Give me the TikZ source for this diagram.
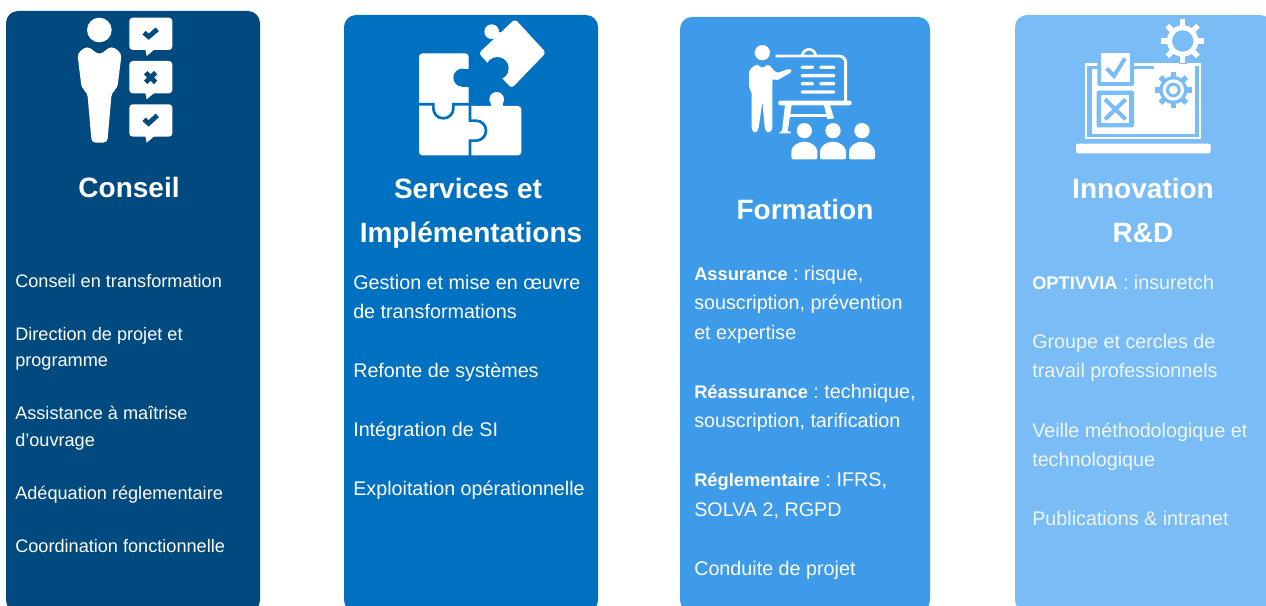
\documentclass[tikz,border=0pt]{standalone}
\usepackage{fontspec}
\setmainfont{Liberation Sans}
\AtBeginDocument{\frenchspacing}
\definecolor{cardA}{HTML}{004A80}
\definecolor{cardB}{HTML}{0070C0}
\definecolor{cardC}{HTML}{3D9BE9}
\definecolor{cardD}{HTML}{7ABCF5}
\tikzset{
  card/.style={rounded corners=9pt},
  head/.style={text=white,font=\fontsize{21}{24}\selectfont\bfseries,anchor=base,inner sep=0pt},
  bodyA/.style={text=white,font=\fontsize{13.6}{15}\selectfont,anchor=base west,inner sep=0pt},
  bodyB/.style={text=white,font=\fontsize{14.8}{16}\selectfont,anchor=base west,inner sep=0pt},
  bodyD/.style={bodyB,text=white!88!cardD},
  icon/.style={x=.25pt,y=-.25pt},
}
\newcommand{\bb}[1]{{\fontsize{13.7}{16}\selectfont\bfseries #1}}
\newcommand{\gearshape}[6]{% cx cy radius toothhalf toothlen colour
  \fill[#6] (#1,#2) circle (#3);
  \foreach \a in {0,45,...,315}{
    \fill[#6,rotate around={\a:(#1,#2)}] (#1+#3-2,#2-#4) rectangle (#1+#3+#5,#2+#4);
  }
}
\newcommand{\bubble}[1]{%
  \fill[white,rounded corners=2.5pt] (388,#1) rectangle (517,#1+97);
  \fill[white] (435,#1+90) -- (440,#1+115) -- (470,#1+90) -- cycle;
}
\begin{document}
\begin{tikzpicture}[x=.75pt,y=-.75pt]
\useasboundingbox (0,0) rectangle (1266,606);
\fill[white] (0,0) rectangle (1266,606);
\fill[cardA,card] (6,11) rectangle (260,612);
\fill[cardB,card] (344,15) rectangle (598,612);
\fill[cardC,card] (680,17) rectangle (930,612);
\fill[cardD,card] (1015,15) rectangle (1272,612);

% icon 1
\begin{scope}[icon]
  \fill[white] (298,90) circle (37);
  \fill[white,rounded corners=3pt] (298,165) -- (262,138) -- (232,160) -- (245,265) -- (262,278) -- (275,428) -- (322,428) -- (335,278) -- (352,265) -- (365,160) -- (335,138) -- cycle;
  \bubble{53}\bubble{183}\bubble{313}
  \draw[cardA,line width=3.6pt] (432,98) -- (446,110) -- (472,88);
  \draw[cardA,line width=3.6pt] (437,218) -- (467,247) (467,218) -- (437,247);
  \draw[cardA,line width=3.6pt] (432,358) -- (446,370) -- (472,346);
\end{scope}

% icon 2
\begin{scope}[icon,shift={(1020,0)}]
  \fill[white,rounded corners=2.5pt] (237,160) -- (386,160) -- (386,240) -- (386,318) -- (544,318) -- (544,466) -- (237,466) -- cycle;
  \fill[white] (470,298) circle (22);
  \fill[white] (452,300) rectangle (488,320);
  \fill[cardB] (367,233) circle (27);
  \fill[cardB] (367,206) rectangle (390,260);
  \draw[cardB,line width=2pt] (237,313) -- (280,313) -- (280,325) arc[start angle=180,end angle=0,radius=30] -- (340,313) -- (390,313);
  \draw[cardB,line width=2pt] (390,313) -- (390,362) -- (408,362) arc[start angle=-90,end angle=90,radius=30] -- (390,422) -- (390,470);
  \fill[white,rounded corners=2.5pt] (525,57) -- (618,158) -- (515,265) -- (416,160) -- cycle;
  \fill[white] (455,95) circle (22);
  \fill[white] (448,88) -- (470,118) -- (490,100) -- cycle;
  \fill[cardB] (472,205) circle (34);
\end{scope}

% icon 3
\begin{scope}[icon,shift={(2040,0)}]
  \fill[white] (247,158) circle (23);
  \fill[white,rounded corners=2pt] (230,192) -- (247,205) -- (265,192) -- (290,220) -- (330,205) -- (337,215) -- (290,242) -- (277,235) -- (277,390) -- (265,400) -- (255,390) -- (247,305) -- (235,390) -- (225,400) -- (215,390) -- (215,275) -- (207,265) -- (207,210) -- cycle;
  \draw[white,line width=2.2pt,rounded corners=5pt] (287,168) -- (497,168) -- (497,305);
  \draw[white,line width=2pt] (367,168) arc[start angle=180,end angle=360,radius=20];
  \fill[white,rounded corners=1.5pt] (295,302) rectangle (515,316);
  \foreach \xa/\xb/\yy in {362/402/197,418/466/197,362/466/222,362/402/246,418/466/246,362/466/271}{
    \fill[white,rounded corners=1pt] (\xa,\yy) rectangle (\xb,\yy+10);
  }
  \fill[white] (315,315) -- (335,315) -- (323,394) -- (332,394) -- (332,400) -- (296,400) -- (306,392) -- cycle;
  \fill[white] (328,342) rectangle (445,351);
  \fill[white] (432,315) -- (450,315) -- (462,355) -- (442,358) -- cycle;
  \foreach \xc in {373,459,546}{
    \fill[white] (\xc,392) circle (23);
    \fill[white,rounded corners=1.5pt] (\xc-39,478) -- (\xc-39,460) arc[start angle=180,end angle=360,x radius=39,y radius=35] -- (\xc+39,478) -- cycle;
  }
\end{scope}

% icon 4
\begin{scope}[icon,shift={(3030,0)}]
  \fill[white,rounded corners=1.5pt] (198,431) rectangle (602,460);
  \fill[white] (225,190) rectangle (573,418);
  \fill[cardD] (232,197) rectangle (566,411);
  \fill[white] (245,208) rectangle (555,402);
  \fill[white] (432,190) rectangle (555,208);
  \fill[cardD,rounded corners=1.5pt] (262,150) rectangle (372,258);
  \fill[white] (273,160) rectangle (360,245);
  \draw[cardD,line width=3pt] (290,205) -- (312,228) -- (345,175);
  \fill[cardD,rounded corners=1.5pt] (260,272) rectangle (372,382);
  \fill[white] (274,285) rectangle (358,370);
  \draw[cardD,line width=3pt] (285,298) -- (347,358) (347,298) -- (285,358);
  \gearshape{518}{123}{52}{12}{18}{cardD}
  \gearshape{518}{123}{47}{8}{18}{white}
  \fill[cardD] (518,123) circle (32);
  \gearshape{490}{270}{42}{8}{13}{cardD}
  \fill[white] (490,270) circle (32);
  \fill[cardD] (490,270) circle (22);
  \fill[white] (490,270) circle (13);
\end{scope}

% headings
\node[head] (h1) at (129,197) {Conseil};
\node[head] (h2a) at (468,198) {Services et};
\node[head] (h2b) at (471,242) {Implémentations};
\node[head] (h3) at (805,219) {Formation};
\node[head] (h4a) at (1143,198) {Innovation};
\node[head] (h4b) at (1143,242) {R\&D};

% card 1
\node[bodyA] (a1) at (15,287) {Conseil en transformation};
\node[bodyA] (a2) at (15,340) {Direction de projet et};
\node[bodyA] (a3) at (15,366) {programme};
\node[bodyA] (a4) at (15,419) {Assistance à maîtrise};
\node[bodyA] (a5) at (15,446) {d’ouvrage};
\node[bodyA] (a6) at (15,499) {Adéquation réglementaire};
\node[bodyA] (a7) at (15,552) {Coordination fonctionnelle};

% card 2
\node[bodyB] (b1) at (353,289) {Gestion et mise en œuvre};
\node[bodyB] (b2) at (353,318) {de transformations};
\node[bodyB] (b3) at (353,377) {Refonte de systèmes};
\node[bodyB] (b4) at (353,436) {Intégration de SI};
\node[bodyB] (b5) at (353,495) {Exploitation opérationnelle};

% card 3
\node[bodyB] (c1) at (694,280) {\bb{Assurance} : risque,};
\node[bodyB] (c2) at (694,309) {souscription, prévention};
\node[bodyB] (c3) at (694,339) {et expertise};
\node[bodyB] (c4) at (694,398) {\bb{Réassurance} : technique,};
\node[bodyB] (c5) at (694,427) {souscription, tarification};
\node[bodyB] (c6) at (694,486) {\bb{Réglementaire} : IFRS,};
\node[bodyB] (c7) at (694,516) {SOLVA 2, RGPD};
\node[bodyB] (c8) at (694,575) {Conduite de projet};

% card 4
\node[bodyD] (d1) at (1032,289) {{\color{white}\bb{OPTIVVIA}} : insuretch};
\node[bodyD] (d2) at (1032,348) {Groupe et cercles de};
\node[bodyD] (d3) at (1032,377) {travail professionnels};
\node[bodyD] (d4) at (1032,437) {Veille méthodologique et};
\node[bodyD] (d5) at (1032,466) {technologique};
\node[bodyD] (d6) at (1032,525) {Publications \& intranet};
\end{tikzpicture}
\end{document}
